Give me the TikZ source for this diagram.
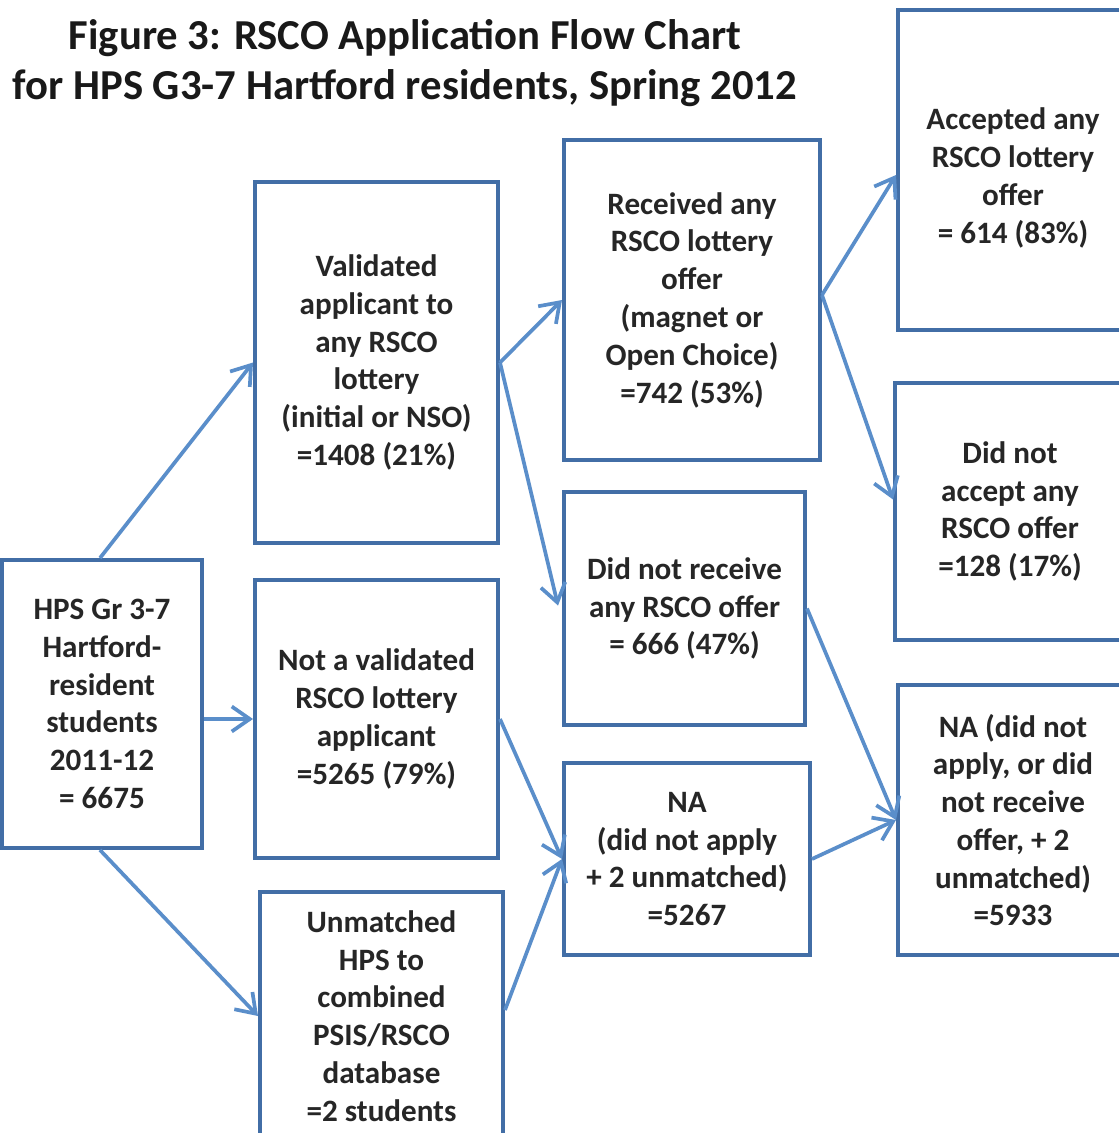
\documentclass[tikz,border=0pt]{standalone}
\usepackage{fontspec}
\setmainfont{Carlito}
\usetikzlibrary{arrows.meta,calc}
\definecolor{boxblue}{RGB}{66,110,166}
\definecolor{arrowblue}{RGB}{90,142,202}
\tikzset{
  boxtext/.style={align=center, font=\fontsize{17.7}{21.5}\selectfont\bfseries, text=black!85},
  box/.style={draw=boxblue, line width=2.3pt, rectangle, inner sep=0pt, boxtext},
  flow/.style={draw=arrowblue, line width=2.1pt, -{Straight Barb[length=0.36cm,width=0.5cm,line width=2.1pt]}},
  titletext/.style={align=center, font=\fontsize{24.3}{28.4}\selectfont\bfseries, text=black!90}
}
\begin{document}
\begin{tikzpicture}[x=0.02cm,y=-0.02cm]
\useasboundingbox (0,0) rectangle (1119,1133);
\clip (0,0) rectangle (1119,1133);
\fill[white] (0,0) rectangle (1119,1133);
\node[titletext] (T) at (405,63) {Figure 3: RSCO Application Flow Chart\\for HPS G3-7 Hartford residents, Spring 2012};

\node[box, minimum width=4.00cm, minimum height=5.76cm] (A) at (102,704) {HPS Gr 3-7\\Hartford-\\resident\\students\\2011-12\\= 6675};
\node[box, minimum width=4.86cm, minimum height=7.22cm] (B) at (376.5,362.5) {Validated\\applicant to\\any RSCO\\lottery\\(initial or NSO)\\=1408 (21\%)};
\node[box, minimum width=4.86cm, minimum height=5.56cm] (C) at (376.5,719) {Not a validated\\RSCO lottery\\applicant\\=5265 (79\%)};
\node[box, minimum width=4.86cm, minimum height=4.96cm] (D) at (381.5,1016) {Unmatched\\HPS to\\combined\\PSIS/RSCO\\database\\=2 students};
\node[box, minimum width=5.12cm, minimum height=6.40cm] (E) at (692,300) {Received any\\RSCO lottery\\offer\\(magnet or\\Open Choice)\\=742 (53\%)};
\node[box, minimum width=4.82cm, minimum height=4.66cm] (F) at (684.5,608.5) {Did not receive\\any RSCO offer\\= 666 (47\%)};
\node[box, minimum width=4.92cm, minimum height=3.84cm] (G) at (687,859) {NA\\(did not apply\\+ 2 unmatched)\\=5267};
\node[box, minimum width=4.60cm, minimum height=6.40cm,
  label={[boxtext, yshift=-0.16cm]center:{Accepted any\\RSCO lottery\\offer\\= 614 (83\%)}}] (H) at (1013,170) {};
\node[box, minimum width=4.60cm, minimum height=5.14cm] (I) at (1010,511.5) {Did not\\accept any\\RSCO offer\\=128 (17\%)};
\node[box, minimum width=4.60cm, minimum height=5.40cm] (J) at (1013,820) {NA (did not\\apply, or did\\not receive\\offer, + 2\\unmatched)\\=5933};

\draw[flow] ($(A.north)+(-2,0)$) -- (B.west);
\draw[flow] (A.east |- C.west) -- (C.west);
\draw[flow] ($(A.south)+(-2,0)$) -- (D.west);
\draw[flow] (B.east) -- (E.west);
\draw[flow] (B.east) -- ($(F.west)+(-4,-3)$);
\draw[flow] (C.east) -- (G.west);
\draw[flow] ($(D.east)+(0,-6)$) -- (G.west);
\draw[flow] ($(E.east)+(0,-5)$) -- ($(H.west)+(0,5)$);
\draw[flow] ($(E.east)+(0,-5)$) -- ($(I.west)+(0,-12)$);
\draw[flow] (F.east) -- (J.west);
\draw[flow] (G.east) -- (J.west);
\end{tikzpicture}
\end{document}
